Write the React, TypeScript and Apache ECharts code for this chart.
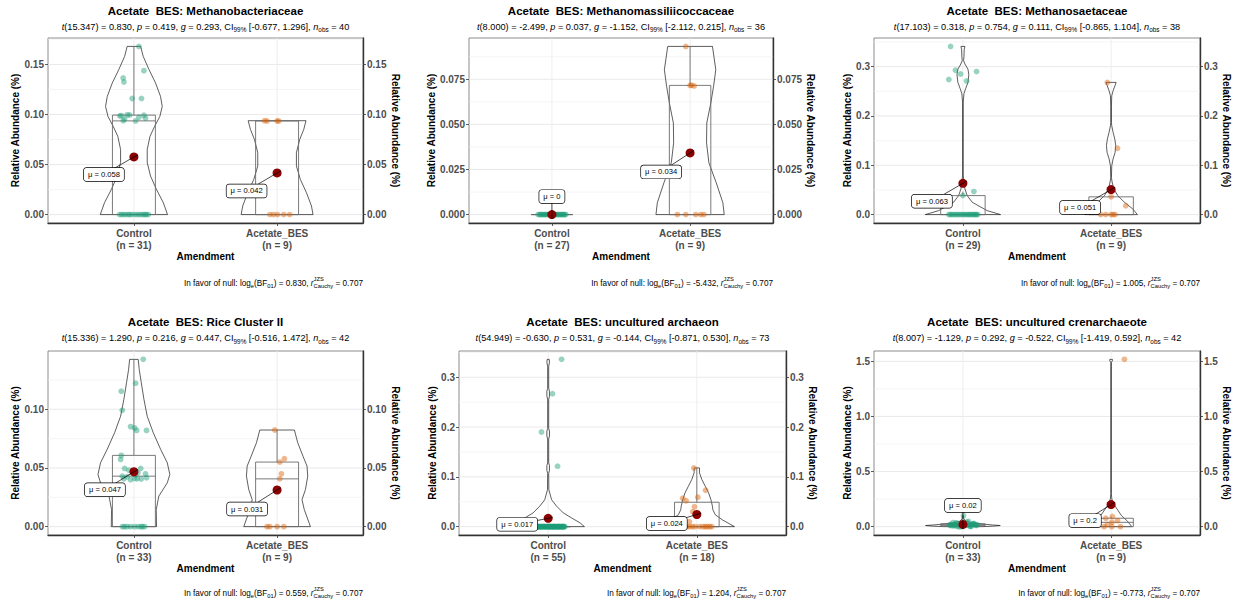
import React, { useEffect, useRef } from "react";
import * as echarts from "echarts";

const FONT = "'Liberation Sans', Arial, Helvetica, sans-serif";
const CATEGORIES = ["Control", "Acetate_BES"];
const GROUP_COLORS = ["#1B9E77", "#D95F02"];
const MEAN_COLOR = "#8B0000";
const TITLE_PREFIX = "Acetate  BES";
const TAXA = [
  "Methanobacteriaceae",
  "Methanomassiliicoccaceae",
  "Methanosaetaceae",
  "Rice Cluster II",
  "uncultured archaeon",
  "uncultured crenarchaeote",
];
const T_DF = ["15.347", "8.000", "17.103", "15.336", "54.949", "8.007"];
const T_STAT = ["0.830", "-2.499", "0.318", "1.290", "-0.630", "-1.129"];
const P_VAL = ["0.419", "0.037", "0.754", "0.216", "0.531", "0.292"];
const G_VAL = ["0.293", "-1.152", "0.111", "0.447", "-0.144", "-0.522"];
const CI_LOW = ["-0.677", "-2.112", "-0.865", "-0.516", "-0.871", "-1.419"];
const CI_HIGH = ["1.296", "0.215", "1.104", "1.472", "0.530", "0.592"];
const LOG_BF01 = ["0.830", "-5.432", "1.005", "0.559", "1.204", "-0.773"];
const R_CAUCHY = "0.707";
const Y_TICKS = [
  ["0.00", "0.05", "0.10", "0.15"],
  ["0.000", "0.025", "0.050", "0.075"],
  ["0.0", "0.1", "0.2", "0.3"],
  ["0.00", "0.05", "0.10"],
  ["0.0", "0.1", "0.2", "0.3"],
  ["0.0", "0.5", "1.0", "1.5"],
];

// ---------- Panel 1: Methanobacteriaceae ----------
const p1ControlValues = [0.168, 0.1438, 0.1365, 0.1325, 0.116, 0.116, 0.0989, 0.0996, 0.0956, 0.0985, 0.0936, 0.0973, 0.0992, 0.0963, 0.0938, 0.0995, 0, 0, 0, 0, 0, 0, 0, 0, 0, 0, 0, 0, 0, 0, 0];
const p1ControlJitter = [0.035, 0.07, -0.075, -0.07, -0.012, 0.053, -0.088, -0.047, -0.065, -0.098, 0.012, 0.035, 0.07, 0.081, -0.074, -0.03, -0.1, -0.086, -0.072, -0.058, -0.041, -0.03, -0.016, 0.004, 0.021, 0.036, 0.052, 0.066, 0.078, 0.087, 0.101];
const p1ControlViolin = [[0.168, 0.047], [0.158, 0.065], [0.145, 0.105], [0.1315, 0.151], [0.118, 0.186], [0.108, 0.198], [0.098, 0.181], [0.088, 0.144], [0.078, 0.112], [0.065, 0.093], [0.052, 0.093], [0.0385, 0.116], [0.025, 0.158], [0.012, 0.205], [0, 0.235]];
const p1AcetateValues = [0.0938, 0.0935, 0.0936, 0.0934, 0, 0, 0, 0, 0];
const p1AcetateJitter = [-0.088, -0.07, 0.0, 0.012, -0.05, -0.025, 0.003, 0.047, 0.088];
const p1AcetateViolin = [[0.0938, 0.202], [0.085, 0.186], [0.075, 0.158], [0.0618, 0.135], [0.0485, 0.135], [0.035, 0.163], [0.0219, 0.205], [0.0086, 0.24], [0, 0.251]];

// ---------- Panel 2: Methanomassiliicoccaceae ----------
const p2ControlValues = [0, 0, 0, 0, 0, 0, 0, 0, 0, 0, 0, 0, 0, 0, 0, 0, 0, 0, 0, 0, 0, 0, 0, 0, 0, 0, 0];
const p2ControlJitter = [-0.1, -0.09, -0.082, -0.075, -0.066, -0.058, -0.05, -0.043, -0.035, -0.027, -0.02, -0.012, -0.004, 0.003, 0.011, 0.018, 0.026, 0.033, 0.041, 0.049, 0.056, 0.064, 0.071, 0.078, 0.086, 0.093, 0.1];
const p2ControlViolin: number[][] = [];
const p2AcetateValues = [0.0932, 0.0717, 0.0713, 0.0716, 0, 0, 0, 0, 0];
const p2AcetateJitter = [-0.031, 0.01, 0.029, 0.0, -0.092, -0.031, 0.041, 0.077, 0.1];
const p2AcetateViolin = [[0.0932, 0.162], [0.0803, 0.186], [0.0711, 0.17], [0.0619, 0.15], [0.0508, 0.121], [0.0398, 0.119], [0.0287, 0.136], [0.0177, 0.189], [0.0066, 0.237], [0, 0.247]];

// ---------- Panel 3: Methanosaetaceae ----------
const p3ControlValues = [0.341, 0.2926, 0.29, 0.274, 0.271, 0.285, 0.0466, 0.0385, 0, 0, 0, 0, 0, 0, 0, 0, 0, 0, 0, 0, 0, 0, 0, 0, 0, 0, 0, 0, 0];
const p3ControlJitter = [-0.083, -0.05, 0.092, -0.095, 0.025, -0.016, 0.074, 0.0, -0.095, -0.085, -0.074, -0.065, -0.052, -0.043, -0.03, -0.02, -0.009, 0.002, 0.012, 0.022, 0.033, 0.041, 0.05, 0.059, 0.068, 0.077, 0.085, 0.092, 0.1];
const p3ControlViolin = [[0.341, 0.0135], [0.335, 0.009], [0.32, 0.007], [0.312, 0.0045], [0.303, 0.018], [0.295, 0.034], [0.284, 0.04], [0.268, 0.034], [0.255, 0.018], [0.245, 0.007], [0.228, 0.0023], [0.08, 0.0023], [0.0655, 0.007], [0.052, 0.0135], [0.0385, 0.029], [0.025, 0.063], [0.008, 0.164], [0, 0.254]];
const p3AcetateValues = [0.268, 0.1345, 0.036, 0.018, 0, 0, 0, 0, 0];
const p3AcetateJitter = [-0.025, 0.043, 0.0, 0.099, -0.07, -0.036, 0.0, 0.014, 0.027];
const p3AcetateViolin = [[0.268, 0.034], [0.262, 0.027], [0.251, 0.0135], [0.241, 0.0045], [0.22, 0.0023], [0.187, 0.0023], [0.18, 0.0045], [0.167, 0.0135], [0.153, 0.025], [0.14, 0.0315], [0.126, 0.027], [0.113, 0.0135], [0.099, 0.0045], [0.075, 0.0023], [0.066, 0.007], [0.052, 0.018], [0.0385, 0.045], [0.025, 0.09], [0.0115, 0.146], [0, 0.178]];

// ---------- Panel 4: Rice Cluster II ----------
const p4ControlValues = [0.1425, 0.1222, 0.1154, 0.0991, 0.0852, 0.084, 0.082, 0.082, 0.0607, 0.0573, 0.0496, 0.0496, 0.048, 0.046, 0.045, 0.044, 0.043, 0.0425, 0.0416, 0.041, 0.0407, 0.0405, 0.04, 0.0408, 0, 0, 0, 0, 0, 0, 0, 0, 0];
const p4ControlJitter = [0.065, 0.012, -0.088, -0.081, -0.023, 0.005, 0.088, 0.019, -0.088, -0.093, -0.065, 0.047, -0.035, 0.028, 0.081, 0.012, -0.081, -0.047, 0.088, 0.005, 0.023, 0.051, -0.023, -0.07, -0.08, -0.065, -0.047, -0.023, 0.005, 0.03, 0.05, 0.06, 0.075];
const p4ControlViolin = [[0.1425, 0.03], [0.134, 0.037], [0.123, 0.051], [0.1085, 0.07], [0.094, 0.093], [0.08, 0.135], [0.066, 0.186], [0.0544, 0.233], [0.0444, 0.251], [0.0373, 0.233], [0.026, 0.174], [0.0145, 0.156], [0, 0.158]];
const p4AcetateValues = [0.0823, 0.0578, 0.055, 0.045, 0.0407, 0, 0, 0, 0];
const p4AcetateJitter = [-0.016, 0.051, 0.019, 0.03, 0.019, -0.07, -0.051, 0.047, 0.0];
const p4AcetateViolin = [[0.0823, 0.121], [0.0715, 0.144], [0.06, 0.181], [0.0516, 0.209], [0.043, 0.214], [0.0316, 0.198], [0.023, 0.174], [0.0145, 0.19], [0, 0.233]];

// ---------- Panel 5: uncultured archaeon ----------
const p5ControlValues = [0.336, 0.267, 0.19, 0.1215, 0, 0, 0, 0, 0, 0, 0, 0, 0, 0, 0, 0, 0, 0, 0, 0, 0, 0, 0, 0, 0, 0, 0, 0, 0, 0, 0, 0, 0, 0, 0, 0, 0, 0, 0, 0, 0, 0, 0, 0, 0, 0, 0, 0, 0, 0, 0, 0, 0, 0, 0];
const p5ControlJitter = [0.09, 0.029, -0.045, 0.063, -0.08, -0.077, -0.071, -0.068, -0.063, -0.059, -0.055, -0.05, -0.047, -0.042, -0.038, -0.034, -0.029, -0.026, -0.021, -0.017, -0.013, -0.009, -0.004, 0.0, 0.004, 0.008, 0.013, 0.017, 0.021, 0.025, 0.03, 0.034, 0.038, 0.043, 0.047, 0.051, 0.056, 0.06, 0.064, 0.068, 0.073, 0.077, 0.081, 0.086, 0.09, 0.094, 0.098, 0.103, 0.108, 0.112, -0.066, 0.011, 0.039, 0.071, 0.1];
const p5ControlViolin = [[0.336, 0.007], [0.33, 0.009], [0.322, 0.0035], [0.278, 0.0035], [0.272, 0.009], [0.262, 0.009], [0.256, 0.0035], [0.197, 0.0035], [0.192, 0.009], [0.182, 0.009], [0.176, 0.0035], [0.128, 0.0035], [0.123, 0.009], [0.113, 0.009], [0.107, 0.0035], [0.0745, 0.0045], [0.054, 0.023], [0.041, 0.057], [0.0275, 0.102], [0.0174, 0.158], [0.0074, 0.215], [0, 0.244]];
const p5AcetateValues = [0.118, 0.073, 0.059, 0.057, 0.052, 0.04, 0.03, 0.01, 0, 0, 0, 0, 0, 0, 0, 0, 0, 0];
const p5AcetateJitter = [-0.02, 0.059, 0.007, -0.095, -0.072, -0.016, -0.027, -0.05, -0.068, -0.05, -0.031, -0.012, 0.018, 0.041, 0.057, 0.07, 0.086, 0.1];
const p5AcetateViolin = [[0.118, 0.018], [0.108, 0.018], [0.0946, 0.034], [0.081, 0.057], [0.068, 0.079], [0.054, 0.095], [0.041, 0.105], [0.034, 0.108], [0.024, 0.124], [0.014, 0.17], [0, 0.253]];

// ---------- Panel 6: uncultured crenarchaeote ----------
const p6ControlValues = [0.017, 0.008, 0.031, 0, 0.022, 0.012, 0.041, 0.005, 0.026, 0.015, 0.1, 0.019, 0.009, 0.034, 0, 0.024, 0.013, 0.048, 0.002, 0.029, 0.018, 0.011, 0.037, 0.006, 0.021, 0, 0.027, 0.014, 0.004, 0.023, 0.01, 0.016, 0.02];
const p6ControlJitter = [-0.09, -0.072, -0.05, -0.03, -0.012, 0.008, 0.027, 0.045, 0.066, 0.085, 0.004, -0.081, -0.061, -0.04, -0.02, 0.0, 0.018, 0.037, 0.056, 0.076, 0.098, -0.086, -0.066, -0.045, -0.025, -0.006, 0.013, 0.032, 0.051, 0.071, 0.09, -0.056, 0.06];
const p6ControlViolin = [[0.1, 0.003], [0.07, 0.006], [0.05, 0.02], [0.035, 0.06], [0.025, 0.12], [0.015, 0.2], [0.01, 0.252], [0.004, 0.2], [0, 0.13]];
const p6AcetateValues = [1.518, 0.092, 0.076, 0.055, 0.039, 0.02, 0, 0, 0];
const p6AcetateJitter = [0.09, 0.009, -0.036, 0.043, 0.005, -0.025, -0.047, 0.005, 0.063];
const p6AcetateViolin = [[1.518, 0.009], [1.505, 0.009], [1.492, 0.002], [1.45, 0.002], [0.3, 0.002], [0.25, 0.005], [0.2, 0.02], [0.15, 0.045], [0.1, 0.07], [0.05, 0.11], [0, 0.14]];

type Group = { values: number[]; jitter: number[]; violin: number[][] };
const PANELS: Group[][] = [
  [{ values: p1ControlValues, jitter: p1ControlJitter, violin: p1ControlViolin }, { values: p1AcetateValues, jitter: p1AcetateJitter, violin: p1AcetateViolin }],
  [{ values: p2ControlValues, jitter: p2ControlJitter, violin: p2ControlViolin }, { values: p2AcetateValues, jitter: p2AcetateJitter, violin: p2AcetateViolin }],
  [{ values: p3ControlValues, jitter: p3ControlJitter, violin: p3ControlViolin }, { values: p3AcetateValues, jitter: p3AcetateJitter, violin: p3AcetateViolin }],
  [{ values: p4ControlValues, jitter: p4ControlJitter, violin: p4ControlViolin }, { values: p4AcetateValues, jitter: p4AcetateJitter, violin: p4AcetateViolin }],
  [{ values: p5ControlValues, jitter: p5ControlJitter, violin: p5ControlViolin }, { values: p5AcetateValues, jitter: p5AcetateJitter, violin: p5AcetateViolin }],
  [{ values: p6ControlValues, jitter: p6ControlJitter, violin: p6ControlViolin }, { values: p6AcetateValues, jitter: p6AcetateJitter, violin: p6AcetateViolin }],
];

// ---------- layout / style ----------
const GRIDS = [
  { left: 48, top: 38, width: 315, height: 185 },
  { left: 469, top: 38, width: 304, height: 185 },
  { left: 874, top: 38, width: 326, height: 185 },
  { left: 48, top: 351, width: 315, height: 184 },
  { left: 459, top: 351, width: 327, height: 184 },
  { left: 874, top: 351, width: 326, height: 184 },
];
const NAME_GAP_LEFT = [26, 30, 20, 25, 20, 20];
const NAME_GAP_RIGHT = [23, 24, 18, 23, 15, 18];
const LABEL_OFFSETS = [
  [[-30, 17.5], [-30.5, 18]],
  [[0, -18], [-29, 19]],
  [[-31, 18], [-31, 18]],
  [[-29, 18], [-30, 19]],
  [[-31, 6], [-30, 9]],
  [[0, -19], [-26, 16]],
];
const ROW_Y = [
  { title: 11, sub: 26.5, caption: 283 },
  { title: 322, sub: 338, caption: 593 },
];
const BOX_HALF = 0.15;
const BOX_COLOR = "#6b6b6b";

function quantile(sorted: number[], q: number) {
  const pos = (sorted.length - 1) * q;
  const lo = Math.floor(pos);
  const hi = Math.ceil(pos);
  return sorted[lo] + (sorted[hi] - sorted[lo]) * (pos - lo);
}
function boxStats(vals: number[]) {
  const s = [...vals].sort((a, b) => a - b);
  const q1 = quantile(s, 0.25);
  const med = quantile(s, 0.5);
  const q3 = quantile(s, 0.75);
  const iqr = q3 - q1;
  const upper = Math.max(...s.filter((v) => v <= q3 + 1.5 * iqr));
  const lower = Math.min(...s.filter((v) => v >= q1 - 1.5 * iqr));
  return { q1, med, q3, upper, lower };
}
const mean = (v: number[]) => v.reduce((a, b) => a + b, 0) / v.length;
const fmtMean = (m: number) => m.toFixed(3).replace(/\.?0+$/, "");

let measureCtx: CanvasRenderingContext2D | null = null;
function textWidth(text: string, size: number, style = "normal") {
  if (!measureCtx) measureCtx = document.createElement("canvas").getContext("2d");
  if (!measureCtx) return text.length * size * 0.5;
  measureCtx.font = `${style} ${size}px ${FONT}`;
  return measureCtx.measureText(text).width;
}

const SUB_FS = 9.2;
const CAP_FS = 8.2;

function buildOption() {
  const grid: any[] = [];
  const xAxis: any[] = [];
  const yAxis: any[] = [];
  const series: any[] = [];
  const graphic: any[] = [];

  PANELS.forEach((groups, p) => {
    const g = GRIDS[p];
    grid.push({ ...g, show: true, borderColor: "#6e6e6e", borderWidth: 0.8, backgroundColor: "transparent", containLabel: false, outerBoundsMode: "none" });

    const all = groups.flatMap((gr) => gr.values);
    const dMin = Math.min(...all);
    const dMax = Math.max(...all);
    const pad = (dMax - dMin) * 0.05;
    const yMin = dMin - pad;
    const yMax = dMax + pad;
    const tickLabels = Y_TICKS[p];
    const tickVals = tickLabels.map(Number);
    const step = tickVals[1] - tickVals[0];
    const minors: number[] = [];
    for (let i = 0; i < tickVals.length; i++) {
      const m = tickVals[i] + step / 2;
      if (m <= yMax) minors.push(m);
    }
    const ns = groups.map((gr) => gr.values.length);

    xAxis.push({
      type: "value",
      gridIndex: p,
      min: 0.4,
      max: 2.6,
      axisLine: { show: true, onZero: false, lineStyle: { color: "#333", width: 1.4 } },
      axisTick: { show: true, customValues: [1, 2], length: 3, lineStyle: { color: "#333", width: 0.8 } },
      axisLabel: {
        customValues: [1, 2],
        formatter: (v: number) => {
          const i = Math.round(v) - 1;
          return `${CATEGORIES[i]}\n(n = ${ns[i]})`;
        },
        fontFamily: FONT,
        fontSize: 10,
        fontWeight: "bold",
        color: "#4d4d4d",
        lineHeight: 12,
        margin: 4,
      },
      splitLine: { show: false },
      name: "Amendment",
      nameLocation: "middle",
      nameGap: 28,
      nameTextStyle: { fontFamily: FONT, fontSize: 10, fontWeight: "bold", color: "#000" },
    });

    const yLabelFmt = (v: number) => {
      const i = tickVals.findIndex((t) => Math.abs(t - v) < 1e-9);
      return i >= 0 ? tickLabels[i] : "";
    };
    const yCommon = {
      type: "value",
      gridIndex: p,
      min: yMin,
      max: yMax,
      axisTick: { show: true, customValues: tickVals, length: 3, lineStyle: { color: "#333", width: 0.8 } },
      axisLabel: { customValues: tickVals, formatter: yLabelFmt, fontFamily: FONT, fontSize: 10, fontWeight: "bold", color: "#4d4d4d", margin: 4 },
      splitLine: { show: false },
      name: "Relative Abundance (%)",
      nameLocation: "middle",
      nameTextStyle: { fontFamily: FONT, fontSize: 10, fontWeight: "bold", color: "#000" },
    };
    yAxis.push({ ...yCommon, position: "left", axisLine: { show: false, onZero: false }, nameGap: NAME_GAP_LEFT[p] });
    yAxis.push({ ...yCommon, position: "right", axisLine: { show: true, onZero: false, lineStyle: { color: "#333", width: 1.4 } }, nameGap: NAME_GAP_RIGHT[p], nameRotate: -90 });

    const yIdx = p * 2;
    // grid lines
    const gridData: number[][] = [];
    tickVals.forEach((v) => gridData.push([1, v, 0]));
    minors.forEach((v) => gridData.push([1, v, 1]));
    gridData.push([1, 0, 2], [2, 0, 2]);
    series.push({
      type: "custom",
      xAxisIndex: p,
      yAxisIndex: yIdx,
      z: 0,
      silent: true,
      data: gridData,
      encode: { x: 0, y: 1 },
      renderItem: (params: any, api: any) => {
        const cs = params.coordSys;
        const kind = api.value(2);
        if (kind === 2) {
          const x = api.coord([api.value(0), 0])[0];
          return { type: "line", shape: { x1: x, y1: cs.y, x2: x, y2: cs.y + cs.height }, style: { stroke: "#ebebeb", lineWidth: 0.9 } };
        }
        const y = api.coord([1, api.value(1)])[1];
        return {
          type: "line",
          shape: { x1: cs.x, y1: y, x2: cs.x + cs.width, y2: y },
          style: { stroke: kind === 0 ? "#e6e6e6" : "#f0f0f0", lineWidth: kind === 0 ? 0.9 : 0.7 },
        };
      },
    });

    // violins + boxes
    series.push({
      type: "custom",
      xAxisIndex: p,
      yAxisIndex: yIdx,
      z: 1,
      silent: true,
      data: groups.map((_, i) => [i + 1, 0]),
      encode: { x: 0, y: 1 },
      renderItem: (params: any, api: any) => {
        const gi = params.dataIndex;
        const gr = groups[gi];
        const cx = gi + 1;
        const children: any[] = [];
        if (gr.violin.length > 1) {
          const right = gr.violin.map(([v, w]) => api.coord([cx + w, v]));
          const left = gr.violin.slice().reverse().map(([v, w]) => api.coord([cx - w, v]));
          children.push({ type: "polygon", shape: { points: right.concat(left) }, style: { fill: "none", stroke: "#1a1a1a", lineWidth: 0.7 } });
        }
        const st = boxStats(gr.values);
        const [xl, yq3] = api.coord([cx - BOX_HALF, st.q3]);
        const [xr, yq1] = api.coord([cx + BOX_HALF, st.q1]);
        const xc = api.coord([cx, 0])[0];
        const ymed = api.coord([cx, st.med])[1];
        const yUp = api.coord([cx, st.upper])[1];
        const yLo = api.coord([cx, st.lower])[1];
        const ls = { stroke: BOX_COLOR, lineWidth: 0.9 };
        children.push({ type: "line", shape: { x1: xc, y1: yq3, x2: xc, y2: yUp }, style: ls });
        children.push({ type: "line", shape: { x1: xc, y1: yq1, x2: xc, y2: yLo }, style: ls });
        children.push({ type: "rect", shape: { x: xl, y: yq3, width: xr - xl, height: Math.max(yq1 - yq3, 0.01) }, style: { fill: "none", ...ls } });
        children.push({ type: "line", shape: { x1: xl, y1: ymed, x2: xr, y2: ymed }, style: ls });
        return { type: "group", children };
      },
    });

    // jittered points
    groups.forEach((gr, gi) => {
      series.push({
        type: "scatter",
        name: CATEGORIES[gi],
        xAxisIndex: p,
        yAxisIndex: yIdx,
        z: 2,
        silent: true,
        symbolSize: 5.8,
        itemStyle: { color: GROUP_COLORS[gi], opacity: 0.45 },
        data: gr.values.map((v, i) => [gi + 1 + gr.jitter[i], v]),
      });
    });

    // means
    const means = groups.map((gr) => mean(gr.values));
    series.push({
      type: "scatter",
      xAxisIndex: p,
      yAxisIndex: yIdx,
      z: 3,
      silent: true,
      symbolSize: 9,
      itemStyle: { color: MEAN_COLOR, opacity: 1 },
      data: means.map((m, i) => [i + 1, m]),
    });

    // mean labels
    series.push({
      type: "custom",
      xAxisIndex: p,
      yAxisIndex: yIdx,
      z: 4,
      silent: true,
      data: means.map((m, i) => [i + 1, m]),
      encode: { x: 0, y: 1 },
      renderItem: (params: any, api: any) => {
        const gi = params.dataIndex;
        const m = means[gi];
        const pt = api.coord([gi + 1, m]);
        const [dx, dy] = LABEL_OFFSETS[p][gi];
        const c = [pt[0] + dx, pt[1] + dy];
        const len = Math.hypot(dx, dy) || 1;
        const r = 4.5;
        return {
          type: "group",
          children: [
            { type: "line", shape: { x1: c[0], y1: c[1], x2: pt[0] - (dx / len) * r, y2: pt[1] - (dy / len) * r }, style: { stroke: "#000", lineWidth: 0.7 } },
            {
              type: "text",
              x: c[0],
              y: c[1],
              style: {
                text: `μ = ${fmtMean(m)}`,
                fontSize: 7.6,
                fontFamily: FONT,
                fill: "#000",
                align: "center",
                verticalAlign: "middle",
                backgroundColor: "#fff",
                borderColor: "#000",
                borderWidth: 0.7,
                borderRadius: 2.5,
                padding: [3, 4, 2, 4],
              },
            },
          ],
        };
      },
    });

    // texts
    const row = ROW_Y[p < 3 ? 0 : 1];
    const cx = g.left + g.width / 2;
    const right = g.left + g.width;
    graphic.push({
      type: "text",
      x: cx,
      y: row.title,
      silent: true,
      style: { text: `${TITLE_PREFIX}: ${TAXA[p]}`, fontSize: 11.5, fontWeight: "bold", fontFamily: FONT, fill: "#000", align: "center", verticalAlign: "middle", textAlign: "center", textVerticalAlign: "middle" },
    });
    const nObs = ns[0] + ns[1];
    const subRich = {
      i: { fontStyle: "italic", fontSize: SUB_FS, fontFamily: FONT, fill: "#000", lineHeight: 12 },
      s: { fontSize: 6.4, fontFamily: FONT, fill: "#000", lineHeight: 6, verticalAlign: "bottom" },
    };
    graphic.push({
      type: "text",
      x: cx,
      y: row.sub,
      silent: true,
      style: {
        text: `{i|t}(${T_DF[p]}) = ${T_STAT[p]}, {i|p} = ${P_VAL[p]}, {i|g} = ${G_VAL[p]}, CI{s|99%} [${CI_LOW[p]}, ${CI_HIGH[p]}], {i|n}{s|obs} = ${nObs}`,
        fontSize: SUB_FS,
        fontFamily: FONT,
        fill: "#000",
        lineHeight: 12,
        align: "center",
        verticalAlign: "middle",
        textAlign: "center",
        textVerticalAlign: "middle",
        rich: subRich,
      },
    });
    const capRich = {
      i: { fontStyle: "italic", fontSize: CAP_FS, fontFamily: FONT, fill: "#000", lineHeight: 12 },
      s: { fontSize: 5.8, fontFamily: FONT, fill: "#000", lineHeight: 6, verticalAlign: "bottom" },
    };
    const tail = ` = ${R_CAUCHY}`;
    graphic.push({
      type: "text",
      x: right,
      y: row.caption,
      silent: true,
      style: {
        text: `In favor of null: log{s|e}(BF{s|01}) = ${LOG_BF01[p]}, {i|r}{s|Cauchy}${tail}`,
        fontSize: CAP_FS,
        fontFamily: FONT,
        fill: "#000",
        lineHeight: 12,
        align: "right",
        verticalAlign: "middle",
        textAlign: "right",
        textVerticalAlign: "middle",
        rich: capRich,
      },
    });
    const jzsX = right - textWidth(tail, CAP_FS) - textWidth("Cauchy", 5.8);
    graphic.push({
      type: "text",
      x: jzsX,
      y: row.caption - 4.5,
      silent: true,
      style: { text: "JZS", fontSize: 5.8, fontFamily: FONT, fill: "#000", align: "left", verticalAlign: "middle", textAlign: "left", textVerticalAlign: "middle" },
    });
  });

  return {
    animation: false,
    backgroundColor: "#ffffff",
    textStyle: { fontFamily: FONT },
    grid,
    xAxis,
    yAxis,
    series,
    graphic,
  };
}

export default function App() {
  const ref = useRef<HTMLDivElement>(null);
  useEffect(() => {
    if (!ref.current) return;
    const chart = echarts.init(ref.current, undefined, { renderer: "svg" });
    chart.setOption(buildOption() as any);
    return () => chart.dispose();
  }, []);
  return <div ref={ref} style={{ position: "absolute", left: 0, top: 0, width: 1238, height: 607, background: "#fff" }} />;
}
